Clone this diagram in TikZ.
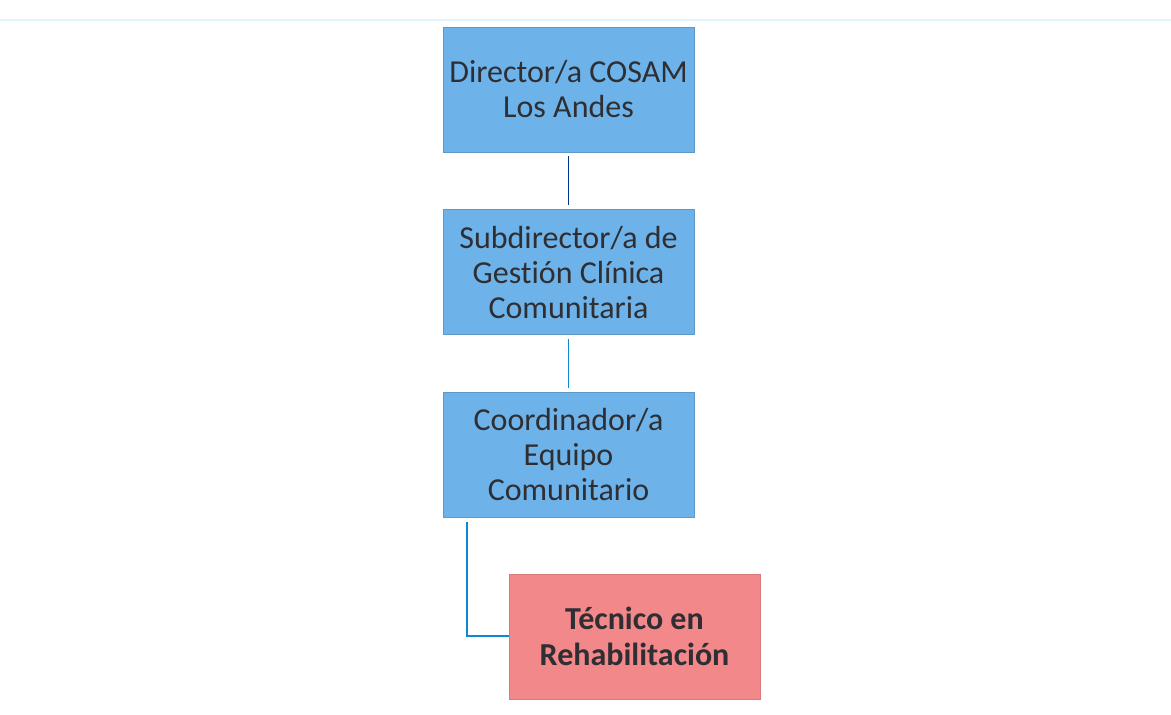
\documentclass[tikz,border=0pt]{standalone}
\usepackage{fontspec}
\setmainfont[Ligatures=NoCommon]{Carlito}
\usepackage{xcolor}
\usetikzlibrary{positioning}

\definecolor{boxblue}{HTML}{6DB3EA}
\definecolor{boxred}{HTML}{F2888A}
\definecolor{inkgray}{HTML}{2E2E33}

\begin{document}
\begin{tikzpicture}[
    node distance=57pt,
    unit/.style={rectangle, fill=boxblue, draw=boxblue!85!black, line width=0.6pt, minimum width=251pt, minimum height=125pt, inner sep=2pt, align=center, text=inkgray, font=\fontsize{32}{35}\selectfont},
    staff/.style={unit, fill=boxred, draw=boxred!90!black, font=\bfseries\fontsize{32}{36}\selectfont},
    link/.style={line width=1.8pt, shorten <=4pt, shorten >=4pt}
]
\useasboundingbox (0pt,0pt) rectangle (1171pt,-715pt);
\draw[line width=1.5pt, color=cyan!12] (0pt,-20pt) -- (1171pt,-20pt);

\node[unit] (director) at (568.5pt,-89.5pt) {Director/a COSAM\\Los Andes};
\node[unit, below=of director] (subdir) {Subdirector/a de\\Gestión Clínica\\Comunitaria};
\node[unit, below=of subdir] (coord) {Coordinador/a\\Equipo\\Comunitario};
\node[staff, below=56pt of coord, xshift=66pt] (tecnico) {Técnico en\\Rehabilitación};

\draw[link, color=blue!45!black!80!cyan] (director) -- (subdir);
\draw[link, color=cyan!70!blue] (subdir) -- (coord);
\draw[line width=1.8pt, color=cyan!70!blue] ([xshift=24pt,yshift=-4pt]coord.south west) |- (tecnico.west);
\end{tikzpicture}
\end{document}
